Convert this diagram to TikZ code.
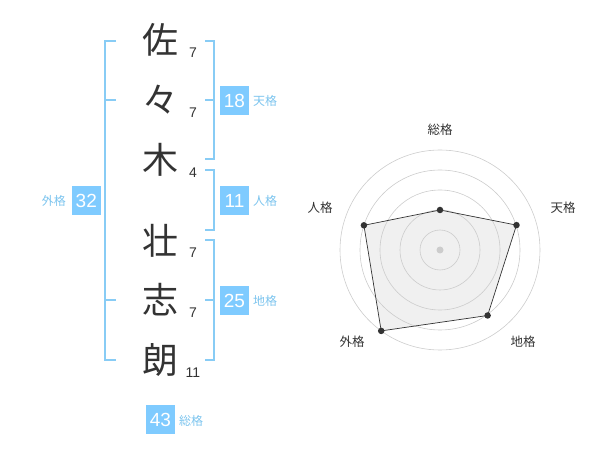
\documentclass[tikz,border=0pt]{standalone}
\usepackage{fontspec}
\setmainfont{Liberation Sans}
\newfontfamily\jp{Noto Sans CJK JP}
\definecolor{ink}{HTML}{333333}
\definecolor{brk}{HTML}{88CCF5}
\definecolor{boxc}{HTML}{7FCBFF}
\definecolor{lbl}{HTML}{7CC4EE}
\definecolor{ring}{HTML}{CCCCCC}
\definecolor{area}{HTML}{F0F0F0}
\tikzset{
  kanji/.style={inner sep=0pt, text=ink, font=\jp\fontsize{36}{36}\selectfont},
  strokes/.style={inner sep=0pt, text=ink, font=\fontsize{14}{14}\selectfont},
  valbox/.style={fill=boxc, text=white, minimum width=29pt, minimum height=29pt, inner sep=0pt, font=\fontsize{19}{19}\selectfont},
  kaku/.style={inner sep=0pt, text=lbl, font=\jp\fontsize{12}{12}\selectfont},
  bracket/.style={draw=brk, line width=2pt},
  axislbl/.style={inner sep=0pt, text=ink, font=\jp\fontsize{12.5}{12.5}\selectfont},
  ringline/.style={draw=ring, line width=0.6pt},
  dot/.style={circle, fill=ink, inner sep=0pt, minimum size=6.5pt},
}
\begin{document}
\begin{tikzpicture}[x=1pt,y=-1pt]
\useasboundingbox (0,0) rectangle (600,470);
% characters
\node[kanji] (c1) at (160,40) {佐};
\node[kanji] (c2) at (160,100) {々};
\node[kanji] (c3) at (160,160) {木};
\node[kanji] (c4) at (160,241) {壮};
\node[kanji] (c5) at (160,300) {志};
\node[kanji] (c6) at (160,360) {朗};
% stroke counts
\node[strokes] (n1) at (193,53) {7};
\node[strokes] (n2) at (193,113) {7};
\node[strokes] (n3) at (193,173) {4};
\node[strokes] (n4) at (193,253) {7};
\node[strokes] (n5) at (193,313) {7};
\node[strokes] (n6) at (193,373) {11};
% brackets
\draw[bracket] (116,41) -- (105,41) -- (105,360) -- (116,360);
\draw[bracket] (105,100) -- (116,100);
\draw[bracket] (105,300) -- (116,300);
\draw[bracket] (205,41) -- (214,41) -- (214,159) -- (205,159);
\draw[bracket] (205,100) -- (214,100);
\draw[bracket] (205,170) -- (214,170) -- (214,230) -- (205,230);
\draw[bracket] (205,240) -- (214,240) -- (214,360) -- (205,360);
\draw[bracket] (205,300) -- (214,300);
% value boxes
\node[valbox] (b18) at (234.5,100.5) {18};
\node[kaku, anchor=west] (l18) at (253,101) {天格};
\node[valbox] (b11) at (234.5,200.5) {11};
\node[kaku, anchor=west] (l11) at (253,201) {人格};
\node[valbox] (b32) at (86.3,200.5) {32};
\node[kaku, anchor=east] (l32) at (66,201) {外格};
\node[valbox] (b25) at (234.5,300.5) {25};
\node[kaku, anchor=west] (l25) at (253,301) {地格};
\node[valbox] (b43) at (160.5,419.5) {43};
\node[kaku, anchor=west] (l43) at (179,421) {総格};
% radar chart
\coordinate (o) at (440,250);
\path (o) ++(0,-40) coordinate (ps);
\path (o) ++(76.5,-24.9) coordinate (pt);
\path (o) ++(47.6,65.5) coordinate (pc);
\path (o) ++(-58.8,80.9) coordinate (pg);
\path (o) ++(-76.1,-24.7) coordinate (pj);
\fill[area] (ps) -- (pt) -- (pc) -- (pg) -- (pj) -- cycle;
\foreach \r in {20,40,60,80,100} \draw[ringline] (o) circle[radius=\r];
\fill[ring] (o) circle[radius=3.5];
\draw[draw=ink, line width=0.7pt] (ps) -- (pt) -- (pc) -- (pg) -- (pj) -- cycle;
\foreach \p in {ps,pt,pc,pg,pj} \node[dot] at (\p) {};
\node[axislbl] (as) at (440,130) {総格};
\node[axislbl] (at) at (563,208) {天格};
\node[axislbl] (ac) at (523,342) {地格};
\node[axislbl] (ag) at (352,342) {外格};
\node[axislbl] (aj) at (320,208) {人格};
\end{tikzpicture}
\end{document}
